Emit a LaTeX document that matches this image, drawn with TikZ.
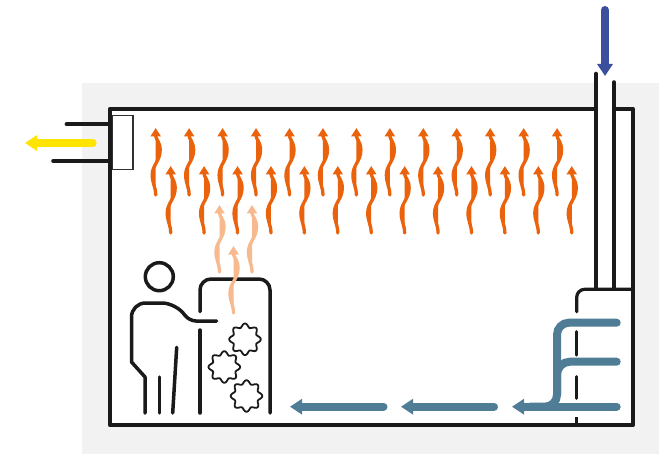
\documentclass[tikz,border=0pt]{standalone}
\usetikzlibrary{arrows.meta}
\definecolor{ink}{RGB}{26,26,26}
\definecolor{bgGrey}{RGB}{242,242,242}
\definecolor{heatOrange}{RGB}{234,98,12}
\definecolor{heatPeach}{RGB}{247,185,142}
\definecolor{airSteel}{RGB}{78,125,149}
\definecolor{inBlue}{RGB}{59,79,158}
\definecolor{outYellow}{RGB}{255,228,0}
\tikzset{
  wall/.style={draw=ink, line width=4.2pt, line cap=round, line join=round},
  figure/.style={draw=ink, line width=3.5pt, line cap=round, line join=round},
  gearline/.style={draw=ink, line width=1.8pt, line join=round},
  heatwave/.style={line width=3.3pt, line cap=round, -{Triangle[length=8.5pt,width=10pt]}},
  flow/.style={line width=8pt, line cap=round, -{Triangle[length=12pt,width=15pt]}},
  pipe/.style={draw=airSteel, line width=8pt, line cap=round},
}
% one wavy rising arrow: #1 = x, #2 = y of tail, #3 = colour
\newcommand{\heatarrow}[3]{%
  \draw[heatwave, draw=#3, fill=#3, shift={(#1,#2)}]
    (0,0) .. controls (0,-8) and (-3.5,-12) .. (-3.5,-20)
          .. controls (-3.5,-30) and (4.5,-34) .. (4.5,-45)
          .. controls (4.5,-53) and (0,-56) .. (0,-67);}
% gear outline with eight lobes centred at (#1,#2)
\newcommand{\gearat}[2]{%
  \draw[gearline] plot[smooth cycle, samples=64, domain=0:354.375, variable=\t]
    ({#1+(14+1.9*cos(8*\t))*cos(\t)}, {#2+(14+1.9*cos(8*\t))*sin(\t)});}
\begin{document}
\begin{tikzpicture}[x=1pt, y=-1pt]
\useasboundingbox (0,0) rectangle (671,454);
% grey surroundings and white room interior
\fill[bgGrey] (82,83) rectangle (659,454);
\fill[white] (110,109) rectangle (633,425);
\fill[white] (596,70) rectangle (614,109);

% room walls
\draw[wall] (596,109) -- (110,109) -- (110,425) -- (633,425) -- (633,109) -- (614,109);

% exhaust duct on the left wall
\draw[wall] (66.7,124.3) -- (110,124.3);
\draw[wall] (53.3,161) -- (110,161);
\draw[draw=ink!90, line width=1.5pt] (112.5,115.7) rectangle (133,169.3);
\coordinate (exhaustStart) at (92.7,143);
\coordinate (exhaustEnd) at (25,143);
\draw[flow, draw=outYellow, fill=outYellow] (exhaustStart) -- (exhaustEnd);

% fresh air inlet pipe on the right
\draw[figure] (596,73.5) -- (596,289.3);
\draw[figure] (614,82) -- (614,289.3);
\coordinate (inletStart) at (605,10);
\coordinate (inletEnd) at (605,76);
\draw[flow, draw=inBlue, fill=inBlue] (inletStart) -- (inletEnd);

% air handling unit casing, interrupted where the ducts pass
\draw[figure, line width=3.2pt, rounded corners=8pt] (576.7,311.7) -- (576.7,289.3) -- (633,289.3);
\draw[figure, line width=3.2pt] (576.7,331.7) -- (576.7,355);
\draw[figure, line width=3.2pt] (576.7,376.7) -- (576.7,398.3);
\draw[figure, line width=3.2pt, line cap=butt] (576.7,416.7) -- (576.7,425);

% supply ducts
\draw[pipe, rounded corners=12pt] (616.7,322.7) -- (557,322.7) -- (557,406.7) -- (530,406.7);
\draw[pipe, rounded corners=13pt] (616.7,361.7) -- (557,361.7) -- (557,395);
\coordinate (ductStart) at (616.7,406.7);
\coordinate (ductEnd) at (512,406.7);
\draw[flow, draw=airSteel, fill=airSteel] (ductStart) -- (ductEnd);

% supply air moving along the floor
\coordinate (floorA1) at (494,406.7);
\coordinate (floorA2) at (401,406.7);
\coordinate (floorB1) at (383.5,406.7);
\coordinate (floorB2) at (290,406.7);
\draw[flow, draw=airSteel, fill=airSteel] (floorA1) -- (floorA2);
\draw[flow, draw=airSteel, fill=airSteel] (floorB1) -- (floorB2);

% rising heat under the ceiling
\foreach \k in {0,...,12} {
  \heatarrow{155.7+33.45*\k}{195}{heatOrange}
  \heatarrow{170.7+33.42*\k}{233}{heatOrange}
}

% worker
\draw[figure] (159.3,276.7) circle (14);
\draw[figure] (145,413) -- (145,377) -- (131.5,362) [rounded corners=14pt] -- (131.5,303) -- (176,303) [rounded corners=7pt] -- (189,321) -- (216.7,321);
\draw[figure] (159.3,377) -- (159.3,413);
\draw[figure] (176.7,347.3) -- (172.7,413);

% furnace with gears
\draw[figure, rounded corners=11pt] (200,311.7) -- (200,279) -- (270,279) -- (270,413);
\draw[figure] (200,330) -- (200,413);
\gearat{245}{339.3}
\gearat{224.3}{367}
\gearat{246.5}{396}

% heat leaving the furnace
\heatarrow{219.5}{272}{heatPeach}
\heatarrow{252}{272}{heatPeach}
\heatarrow{233.5}{313}{heatPeach}
\end{tikzpicture}
\end{document}
